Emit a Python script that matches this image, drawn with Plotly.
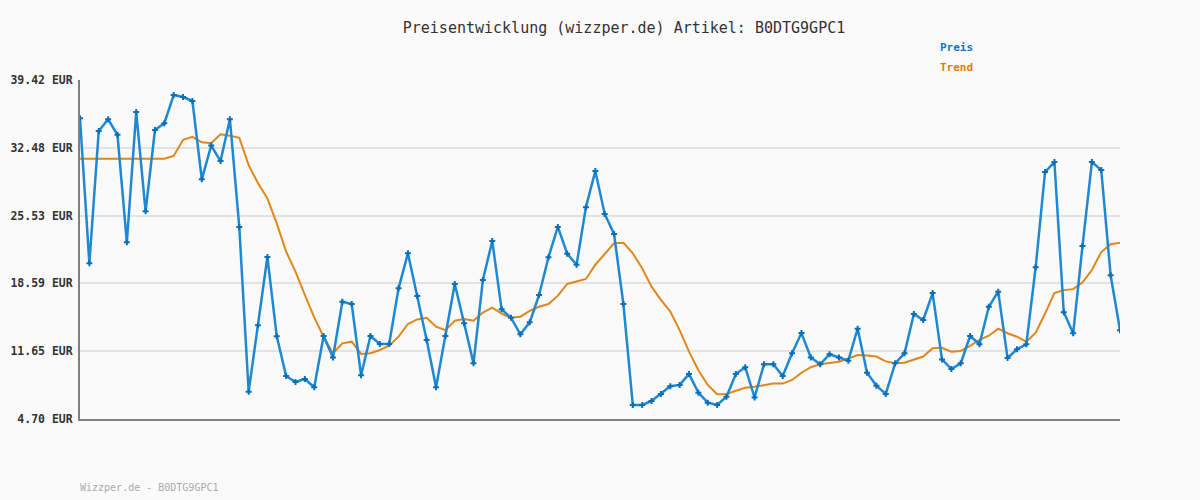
import plotly.graph_objects as go

preis = [35.5, 20.65, 34.2, 35.4, 33.8, 22.8, 36.14, 25.97, 34.3, 35.0,
         37.88, 37.68, 37.27, 29.25, 32.7, 31.12, 35.4, 24.37, 7.5, 14.3,
         21.29, 13.17, 9.1, 8.49, 8.8, 7.95, 13.2, 11.0, 16.7, 16.47,
         9.18, 13.2, 12.38, 12.38, 18.08, 21.67, 17.3, 12.8, 7.95, 13.2,
         18.53, 14.5, 10.4, 18.94, 22.93, 15.93, 15.07, 13.38, 14.6, 17.4,
         21.26, 24.37, 21.63, 20.5, 26.4, 30.1, 25.7, 23.65, 16.47, 6.14,
         6.14, 6.55, 7.27, 8.05, 8.19, 9.3, 7.4, 6.37, 6.14, 6.98,
         9.3, 10.0, 6.9, 10.3, 10.3, 9.1, 11.43, 13.5, 11.0, 10.3,
         11.33, 11.0, 10.67, 13.95, 9.44, 8.11, 7.27, 10.4, 11.43, 15.45,
         14.84, 17.6, 10.8, 9.82, 10.4, 13.2, 12.35, 16.2, 17.74, 10.95,
         11.84, 12.35, 20.24, 30.0, 31.02, 15.63, 13.48, 22.42, 31.02, 30.2,
         19.42, 13.8]

trend = [31.36, 31.36, 31.36, 31.36, 31.36, 31.36, 31.36, 31.36, 31.36, 31.36,
         31.64, 33.3, 33.6, 33.04, 32.94, 33.86, 33.72, 33.5, 30.7, 28.84,
         27.3, 24.74, 21.84, 19.8, 17.4, 15.1, 13.13, 11.43, 12.45, 12.62,
         11.36, 11.43, 11.77, 12.2, 13.13, 14.43, 14.9, 15.07, 14.15, 13.8,
         14.77, 14.94, 14.77, 15.6, 16.1, 15.5, 15.07, 15.18, 15.77, 16.2,
         16.47, 17.33, 18.53, 18.77, 19.04, 20.5, 21.6, 22.7, 22.76, 21.67,
         20.13, 18.25, 16.9, 15.7, 13.8, 11.6, 9.7, 8.19, 7.23, 7.27,
         7.6, 7.9, 8.0, 8.19, 8.33, 8.33, 8.7, 9.44, 10.0, 10.3,
         10.47, 10.57, 10.9, 11.26, 11.2, 11.1, 10.6, 10.4, 10.47, 10.8,
         11.1, 11.94, 12.0, 11.6, 11.67, 12.2, 12.8, 13.23, 13.95, 13.48,
         13.13, 12.62, 13.54, 15.5, 17.6, 17.9, 18.0, 18.7, 19.96, 21.8,
         22.6, 22.76]

y_ticks = [4.70, 11.65, 18.59, 25.53, 32.48, 39.42]
y_tick_labels = ["4.70 EUR", "11.65 EUR", "18.59 EUR", "25.53 EUR", "32.48 EUR", "39.42 EUR"]

x = list(range(len(preis)))
MONO = "DejaVu Sans Mono"

fig = go.Figure()
fig.add_trace(go.Scatter(
    x=x, y=trend, mode="lines", name="Trend",
    line=dict(color="#e0861c", width=2), hoverinfo="skip"))
fig.add_trace(go.Scatter(
    x=x, y=preis, mode="lines+markers", name="Preis",
    line=dict(color="#1f88d2", width=2.5),
    marker=dict(symbol="cross", size=5, color="#0b6fb8", line=dict(width=0))))

fig.update_layout(
    width=1200, height=500,
    margin=dict(l=80, r=80, t=80, b=81, autoexpand=False),
    paper_bgcolor="#fafafa", plot_bgcolor="#fafafa",
    showlegend=False,
    title=dict(text="Preisentwicklung (wizzper.de) Artikel: B0DTG9GPC1",
               x=624 / 1200, xanchor="center", y=1 - 28 / 500, yanchor="middle",
               font=dict(family=MONO, size=15, color="#333333")),
)
fig.update_xaxes(range=[0, len(preis) - 1], showticklabels=False, showgrid=False,
                 zeroline=False, showline=True, linecolor="#808080", linewidth=2,
                 ticks="", automargin=False)
fig.update_yaxes(range=[4.70, 39.42], tickvals=y_ticks, ticktext=y_tick_labels,
                 showgrid=True, gridcolor="#e3e3e3", gridwidth=2, zeroline=False,
                 showline=True, linecolor="#808080", linewidth=2, ticks="",
                 ticklabelstandoff=3, automargin=False,
                 tickfont=dict(family=MONO, size=11.5, color="#333333", weight="bold"))

fig.add_annotation(text="<b>Preis</b>", xref="paper", yref="paper", x=(940 - 80) / 1040,
                   y=(419 - 47) / 339, xanchor="left", yanchor="middle", showarrow=False,
                   xshift=-2, font=dict(family=MONO, size=11, color="#0a78c2"))
fig.add_annotation(text="<b>Trend</b>", xref="paper", yref="paper", x=(940 - 80) / 1040,
                   y=(419 - 67) / 339, xanchor="left", yanchor="middle", showarrow=False,
                   xshift=-2, font=dict(family=MONO, size=11, color="#dd7a0c"))
fig.add_annotation(text="Wizzper.de - B0DTG9GPC1", xref="paper", yref="paper", x=0,
                   y=(419 - 487) / 339, xanchor="left", yanchor="middle", showarrow=False,
                   xshift=-2, font=dict(family=MONO, size=10, color="#aaaaaa"))

fig.write_html("out.html")
